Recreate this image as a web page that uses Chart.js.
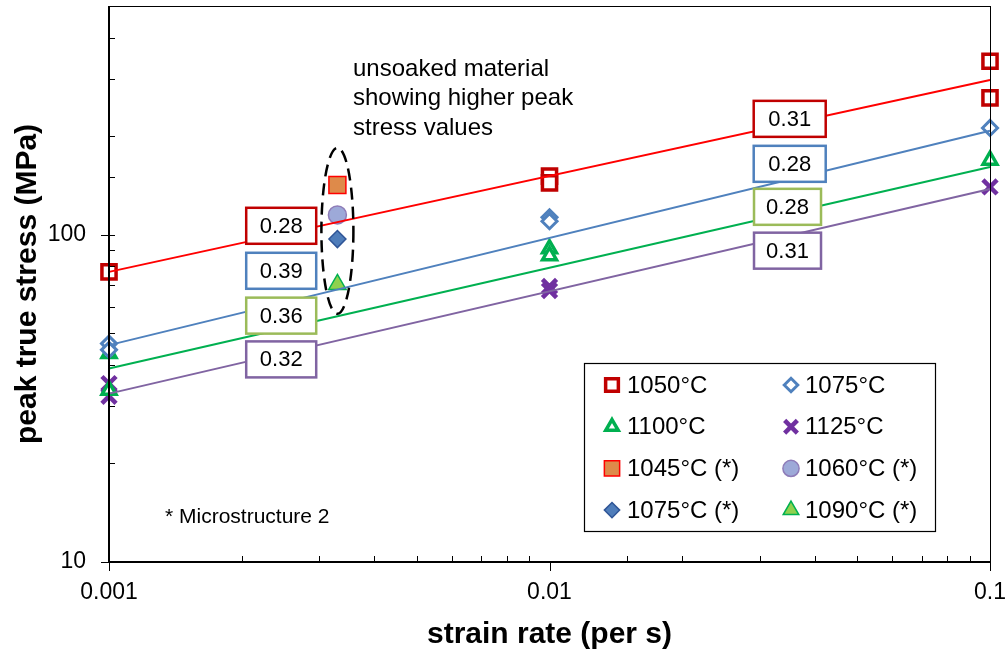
<!DOCTYPE html>
<html>
<head>
<meta charset="utf-8">
<script src="https://cdn.jsdelivr.net/npm/chart.js@4.4.0/dist/chart.umd.min.js"></script>
<style>
  html, body { margin: 0; padding: 0; background: #fff; }
</style>
</head>
<body>
<canvas id="chart" width="1008" height="653"></canvas>
<script>
// Measured points (strain rate per s, peak true stress MPa)
const rate1050 = [0.001, 0.01, 0.01, 0.1, 0.1];
const stress1050 = [77, 151, 144, 339, 262];
const rate1075 = [0.001, 0.001, 0.01, 0.01, 0.1];
const stress1075 = [46.5, 44.5, 113, 110, 212];
const rate1100 = [0.001, 0.001, 0.01, 0.01, 0.1];
const stress1100 = [43.4, 33.5, 90.6, 86.3, 169];
const rate1125 = [0.001, 0.001, 0.01, 0.01, 0.1];
const stress1125 = [35.1, 32.1, 69.5, 67.5, 140];

// Microstructure 2 (unsoaked) points
const rateStar = [0.0033];
const stress1045s = [142];
const stress1060s = [115];
const stress1075s = [97];
const stress1090s = [70.5];

// Power-law trend lines
const trendRates = [0.001, 0.1];
const trend1050 = [77, 297];
const trend1075 = [46, 208];
const trend1100 = [39, 161];
const trend1125 = [32.7, 138];

// Slope labels
const slopesLow = ['0.28', '0.39', '0.36', '0.32'];
const slopesHigh = ['0.31', '0.28', '0.28', '0.31'];
const slopeLowAt = [[0.00246, 106.5], [0.00246, 77.6], [0.00246, 56.6], [0.00246, 41.6]];
const slopeHighAt = [[0.0351, 226], [0.0351, 164.7], [0.0347, 121.7], [0.0347, 89.4]];
const slopeColors = ['#C00000', '#4F81BD', '#9BBB59', '#8064A2'];

const xTicks = [0.001, 0.01, 0.1];
const yTicks = [10, 100];

function pts(xs, ys) { return ys.map((v, i) => ({ x: xs[i], y: v })); }
function isDecade(v) { const l = Math.log10(v); return Math.abs(l - Math.round(l)) < 1e-6; }

function series(label, xs, ys, style, bg, border, bw, r) {
    return {
        label: label, data: pts(xs, ys), pointStyle: style,
        pointBackgroundColor: bg, pointBorderColor: border,
        pointBorderWidth: bw, pointRadius: r, pointHoverRadius: r,
        showLine: false, clip: false
    };
}
function trend(xs, ys, color) {
    return {
        label: '', data: pts(xs, ys), showLine: true, borderColor: color,
        borderWidth: 2, pointRadius: 0, pointHoverRadius: 0, clip: false
    };
}

const markerSets = [
    series('1050°C', rate1050, stress1050, 'rect', '#fff', '#C00000', 3.5, 10),
    series('1075°C', rate1075, stress1075, 'rectRot', '#fff', '#4F81BD', 3, 7.5),
    series('1100°C', rate1100, stress1100, 'triangle', '#fff', '#00B050', 3.5, 8),
    series('1125°C', rate1125, stress1125, 'crossRot', '#fff', '#7030A0', 4.5, 10),
    series('1045°C (*)', rateStar, stress1045s, 'rect', '#DE8A4A', '#FF0000', 1.5, 12),
    series('1060°C (*)', rateStar, stress1060s, 'circle', '#9DA9D8', '#8E7CB8', 1.5, 9),
    series('1075°C (*)', rateStar, stress1075s, 'rectRot', '#4F7DBA', '#2F5597', 1.5, 8.5),
    series('1090°C (*)', rateStar, stress1090s, 'triangle', '#8FD14F', '#00B050', 1.5, 10)
];

const trendSets = [
    trend(trendRates, trend1050, '#FF0000'),
    trend(trendRates, trend1075, '#4F81BD'),
    trend(trendRates, trend1100, '#00B050'),
    trend(trendRates, trend1125, '#8064A2')
];

function noPad(s) { s.paddingTop = 0; s.paddingBottom = 0; s.paddingLeft = 0; s.paddingRight = 0; }

const decor = {
    id: 'decor',
    afterDatasetsDraw(chart) {
        const ctx = chart.ctx, xs = chart.scales.x, ys = chart.scales.y, a = chart.chartArea;
        ctx.save();
        // frame
        ctx.strokeStyle = '#000';
        ctx.lineWidth = 1;
        ctx.strokeRect(a.left + 0.5, a.top + 0.5, a.right - a.left, a.bottom - a.top);
        ctx.lineWidth = 2;
        ctx.beginPath();
        ctx.moveTo(a.left, a.top); ctx.lineTo(a.left, a.bottom); ctx.lineTo(a.right, a.bottom);
        ctx.stroke();
        // tick marks
        ctx.lineWidth = 1;
        ctx.beginPath();
        xs.ticks.forEach(t => {
            const px = Math.round(xs.getPixelForValue(t.value)) + 0.5;
            if (isDecade(t.value)) { ctx.moveTo(px, a.bottom); ctx.lineTo(px, a.bottom + 9); }
            else { ctx.moveTo(px, a.bottom); ctx.lineTo(px, a.bottom - 6); }
        });
        ys.ticks.forEach(t => {
            const py = Math.round(ys.getPixelForValue(t.value)) + 0.5;
            if (isDecade(t.value)) { ctx.moveTo(a.left - 8, py); ctx.lineTo(a.left + 6, py); }
            else { ctx.moveTo(a.left, py); ctx.lineTo(a.left + 6, py); }
        });
        ctx.stroke();

        // slope boxes
        ctx.font = '22px "Liberation Sans", Arial, sans-serif';
        ctx.textAlign = 'center';
        ctx.textBaseline = 'middle';
        const box = (txt, at, color, w) => {
            const cx = xs.getPixelForValue(at[0]), cy = ys.getPixelForValue(at[1]);
            ctx.fillStyle = '#fff';
            ctx.fillRect(cx - w / 2, cy - 18, w, 36);
            ctx.strokeStyle = color;
            ctx.lineWidth = 2.5;
            ctx.strokeRect(cx - w / 2, cy - 18, w, 36);
            ctx.fillStyle = '#000';
            ctx.fillText(txt, cx, cy + 1);
        };
        slopesLow.forEach((s, i) => box(s, slopeLowAt[i], slopeColors[i], 70));
        slopesHigh.forEach((s, i) => box(s, slopeHighAt[i], slopeColors[i], i < 2 ? 72 : 67));

        // dashed ellipse around unsoaked points
        const ex = xs.getPixelForValue(rateStar[0]), ey = ys.getPixelForValue(102.8);
        ctx.strokeStyle = '#000';
        ctx.lineWidth = 2.5;
        ctx.setLineDash([12, 7]);
        ctx.beginPath();
        ctx.ellipse(ex, ey, 16, 83, 0, 0, Math.PI * 2);
        ctx.stroke();
        ctx.setLineDash([]);

        // notes
        ctx.fillStyle = '#000';
        ctx.textAlign = 'left';
        ctx.font = '24px "Liberation Sans", Arial, sans-serif';
        ['unsoaked material', 'showing higher peak', 'stress values'].forEach((l, i) => ctx.fillText(l, 353, 69 + i * 29.5));
        ctx.font = '21px "Liberation Sans", Arial, sans-serif';
        ctx.fillText('* Microstructure 2', 165, 517);

        // legend
        ctx.fillStyle = '#fff';
        ctx.fillRect(584, 363, 351, 168);
        ctx.strokeStyle = '#000';
        ctx.lineWidth = 1.2;
        ctx.strokeRect(584.5, 363.5, 351, 168);
        ctx.font = '24px "Liberation Sans", Arial, sans-serif';
        markerSets.forEach((ds, i) => {
            const col = i % 2, row = Math.floor(i / 2);
            const mx = col ? 791 : 612, my = 385 + row * 41.7;
            ctx.fillStyle = ds.pointBackgroundColor;
            ctx.strokeStyle = ds.pointBorderColor;
            ctx.lineWidth = ds.pointBorderWidth;
            Chart.helpers.drawPoint(ctx, {
                pointStyle: ds.pointStyle, rotation: 0,
                radius: ds.pointRadius * 0.9, borderWidth: ds.pointBorderWidth
            }, mx, my);
            ctx.fillStyle = '#000';
            ctx.fillText(ds.label, col ? 805 : 627, my + 1);
        });
        ctx.restore();
    }
};

new Chart(document.getElementById('chart'), {
    type: 'scatter',
    data: { datasets: [...trendSets, ...markerSets] },
    options: {
        responsive: false,
        animation: false,
        layout: { autoPadding: false, padding: { left: 0, top: 6, right: 18, bottom: 0 } },
        plugins: { legend: { display: false }, tooltip: { enabled: false } },
        scales: {
            x: {
                type: 'logarithmic', min: 0.001, max: 0.1,
                grid: { display: false, drawTicks: false },
                border: { display: false },
                afterFit(s) { s.height = 91; noPad(s); },
                ticks: {
                    autoSkip: false, maxRotation: 0, padding: 17, color: '#000',
                    font: { size: 23, family: '"Liberation Sans", Arial, sans-serif' },
                    callback: (v) => xTicks.some(t => Math.abs(t - v) < t * 1e-6) ? String(v) : ''
                },
                title: {
                    display: true, text: 'strain rate (per s)', color: '#000',
                    font: { size: 30, weight: 'bold', family: '"Liberation Sans", Arial, sans-serif' },
                    padding: { top: 0, bottom: 0 }
                }
            },
            y: {
                type: 'logarithmic', min: 10, max: 500,
                grid: { display: false, drawTicks: false },
                border: { display: false },
                afterFit(s) { s.width = 109; noPad(s); },
                ticks: {
                    autoSkip: false, padding: 23, color: '#000',
                    font: { size: 23, family: '"Liberation Sans", Arial, sans-serif' },
                    callback: (v) => yTicks.some(t => Math.abs(t - v) < t * 1e-6) ? String(v) : ''
                },
                title: {
                    display: true, text: 'peak true stress (MPa)', color: '#000',
                    font: { size: 30, weight: 'bold', family: '"Liberation Sans", Arial, sans-serif' },
                    padding: { top: 10, bottom: 0 }
                }
            }
        }
    },
    plugins: [decor]
});
</script>
</body>
</html>
